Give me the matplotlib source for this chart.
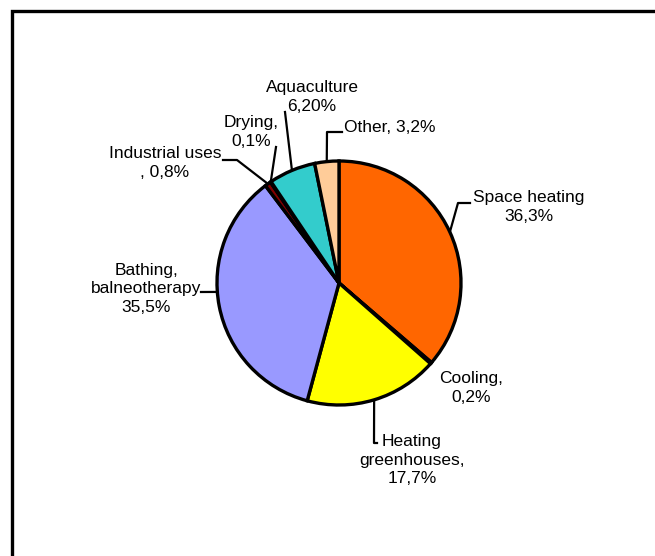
import numpy as np
import matplotlib.pyplot as plt

plt.rcParams['font.family'] = ['Liberation Sans', 'DejaVu Sans']

# data (clockwise from 12 o'clock)
labels = ["Space heating\n36,3%", "Cooling,\n0,2%", "Heating\ngreenhouses,\n17,7%",
          "Bathing,\nbalneotherapy\n35,5%", "Industrial uses\n, 0,8%", "Drying,\n0,1%",
          "Aquaculture\n6,20%", "Other, 3,2%"]
values = [36.3, 0.2, 17.7, 35.5, 0.8, 0.1, 6.2, 3.2]
colors = ["#FF6600", "#CCFFFF", "#FFFF00", "#9999FF", "#800000", "#FF0000", "#33CCCC", "#FFCC99"]

W, H = 655, 556
fig = plt.figure(figsize=(W / 100, H / 100), dpi=100)
ax = fig.add_axes([0, 0, 1, 1])

cx, cy, r = 339, H - 283, 122
wedges, _ = ax.pie(values, colors=colors, startangle=90, counterclock=False,
                   center=(cx, cy), radius=r, frame=True,
                   wedgeprops=dict(edgecolor="black", linewidth=2.4))
ax.set_xlim(0, W)
ax.set_ylim(0, H)
ax.set_aspect("auto")
ax.axis("off")

# outer frame (runs off the right and bottom edge)
ax.plot([12, 12, W + 10], [-10, H - 11, H - 11], color="black", lw=2.4,
        solid_joinstyle="miter", clip_on=False)

# label centre (px, top-left origin), leader knee points, anchor angle override
layout = [
    ((529, 207), [(458, 203), (470, 203)], None),
    ((471, 388), None, None),
    ((412, 460), [(374, 443), (377, 443)], None),
    ((146, 289), [(201, 292)], 184.2),
    ((165, 163), [(237, 160), (223, 160)], None),
    ((251, 132), [(276, 147)], None),
    ((312, 97), [(285, 112)], None),
    ((390, 127), [(327, 132), (342, 132)], None),
]

for w, lab, (pos, knees, ang_over) in zip(wedges, labels, layout):
    ax.text(pos[0], H - pos[1], lab, ha="center", va="center", fontsize=12.5,
            linespacing=1.3)
    if knees:
        a = ang_over if ang_over is not None else (w.theta1 + w.theta2) / 2
        a = np.deg2rad(a)
        px, py = cx + r * np.cos(a), cy + r * np.sin(a)
        xs = [px] + [k[0] for k in knees]
        ys = [py] + [H - k[1] for k in knees]
        ax.plot(xs, ys, color="black", lw=1.6, zorder=0.5)

fig.savefig("out.png", dpi=100)
